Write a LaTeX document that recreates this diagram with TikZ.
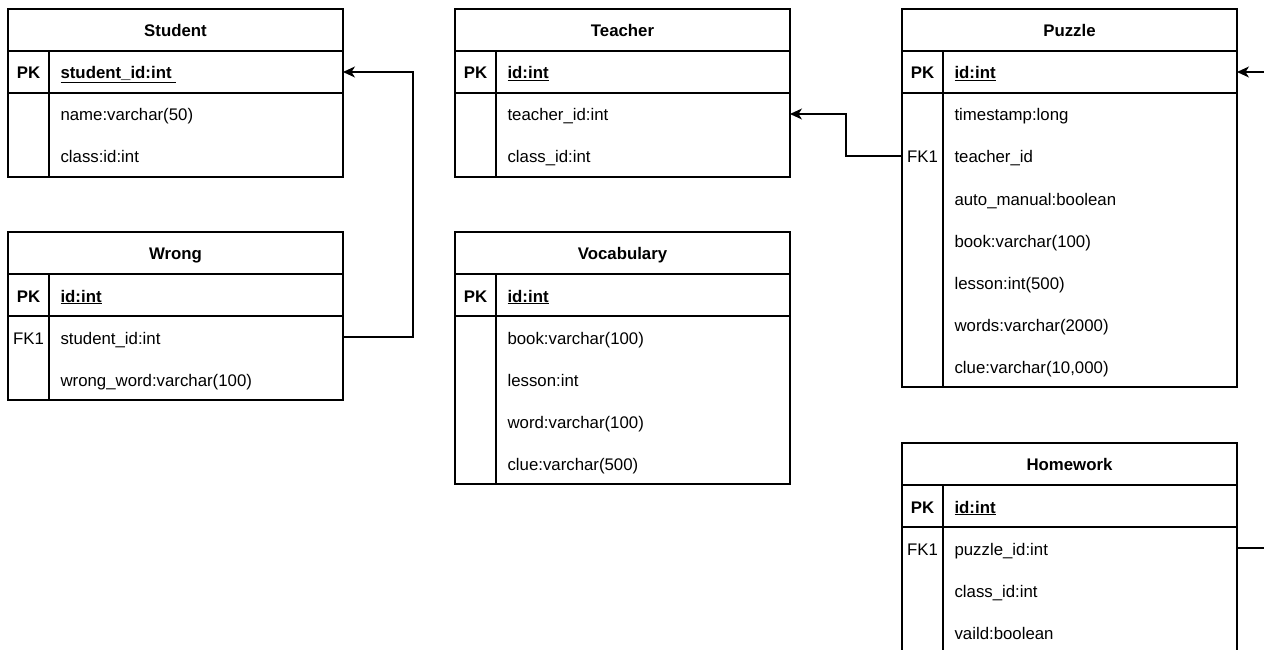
\documentclass[tikz,border=0pt]{standalone}
\usepackage{fontspec}
\setmainfont{Liberation Sans}
\usetikzlibrary{positioning}
\usetikzlibrary{arrows.meta}

\newcommand{\erfont}{\fontsize{16.8}{20}\selectfont}

\tikzset{
  tbltitle/.style={draw, anchor=north west, minimum width=335pt, minimum height=42pt, inner sep=0pt, outer sep=0pt, text height=13pt, text depth=0pt, font=\erfont\bfseries},
  pkrow/.style={draw, minimum width=335pt, minimum height=42pt, inner sep=0pt, outer sep=0pt},
  tblbody/.style={draw, minimum width=335pt, inner sep=0pt, outer sep=0pt},
  keycol/.style={inner sep=0pt, text height=14pt, text depth=0pt},
  field/.style={anchor=west, inner sep=0pt, text height=14pt, text depth=0pt},
  bold/.style={font=\erfont\bfseries},
}

\begin{document}
\begin{tikzpicture}[x=1pt, y=-1pt, line width=1.1pt, font=\erfont,
    >={Stealth[length=12pt, width=11pt, inset=3.5pt]}]
\useasboundingbox (0,0) rectangle (1264,650);
\clip (0,0) rectangle (1264,650);

% Student
\node[tbltitle] (student) at (8,9) {Student};
\node[pkrow, below=0pt of student] (student-pk) {};
\node[tblbody, minimum height=84pt, below=0pt of student-pk] (student-body) {};
\draw ([xshift=41pt]student-pk.north west) -- ([xshift=41pt]student-body.south west);
\node[keycol, bold] (student-k) at ([xshift=20.5pt]student-pk.west) {PK};
\node[field, bold] (student-id) at ([xshift=52pt]student-pk.west) {\underline{student\_id:int\ }};
\foreach \t [count=\i] in {name:varchar(50), class:id:int}
  \node[field] (student-f\i) at ([xshift=52pt, yshift={-(\i-0.5)*42pt}]student-body.north west) {\t};

% Teacher
\node[tbltitle] (teacher) at (455,9) {Teacher};
\node[pkrow, below=0pt of teacher] (teacher-pk) {};
\node[tblbody, minimum height=84pt, below=0pt of teacher-pk] (teacher-body) {};
\draw ([xshift=41pt]teacher-pk.north west) -- ([xshift=41pt]teacher-body.south west);
\node[keycol, bold] (teacher-k) at ([xshift=20.5pt]teacher-pk.west) {PK};
\node[field, bold] (teacher-id) at ([xshift=52pt]teacher-pk.west) {\underline{id:int}};
\foreach \t [count=\i] in {teacher\_id:int, class\_id:int}
  \node[field] (teacher-f\i) at ([xshift=52pt, yshift={-(\i-0.5)*42pt}]teacher-body.north west) {\t};

% Puzzle
\node[tbltitle] (puzzle) at (902,9) {Puzzle};
\node[pkrow, below=0pt of puzzle] (puzzle-pk) {};
\node[tblbody, minimum height=294pt, below=0pt of puzzle-pk] (puzzle-body) {};
\draw ([xshift=41pt]puzzle-pk.north west) -- ([xshift=41pt]puzzle-body.south west);
\node[keycol, bold] (puzzle-k) at ([xshift=20.5pt]puzzle-pk.west) {PK};
\node[field, bold] (puzzle-id) at ([xshift=52pt]puzzle-pk.west) {\underline{id:int}};
\foreach \t [count=\i] in {timestamp:long, teacher\_id, auto\_manual:boolean, book:varchar(100),
    lesson:int(500), words:varchar(2000), {clue:varchar(10,000)}}
  \node[field] (puzzle-f\i) at ([xshift=52pt, yshift={-(\i-0.5)*42pt}]puzzle-body.north west) {\t};
\path (puzzle-f2 -| puzzle-body.west) ++(20.5,0) node[keycol] (puzzle-fk) {FK1};

% Wrong
\node[tbltitle] (wrong) at (8,232) {Wrong};
\node[pkrow, below=0pt of wrong] (wrong-pk) {};
\node[tblbody, minimum height=84pt, below=0pt of wrong-pk] (wrong-body) {};
\draw ([xshift=41pt]wrong-pk.north west) -- ([xshift=41pt]wrong-body.south west);
\node[keycol, bold] (wrong-k) at ([xshift=20.5pt]wrong-pk.west) {PK};
\node[field, bold] (wrong-id) at ([xshift=52pt]wrong-pk.west) {\underline{id:int}};
\foreach \t [count=\i] in {student\_id:int, wrong\_word:varchar(100)}
  \node[field] (wrong-f\i) at ([xshift=52pt, yshift={-(\i-0.5)*42pt}]wrong-body.north west) {\t};
\path (wrong-f1 -| wrong-body.west) ++(20.5,0) node[keycol] (wrong-fk) {FK1};

% Vocabulary
\node[tbltitle] (vocab) at (455,232) {Vocabulary};
\node[pkrow, below=0pt of vocab] (vocab-pk) {};
\node[tblbody, minimum height=168pt, below=0pt of vocab-pk] (vocab-body) {};
\draw ([xshift=41pt]vocab-pk.north west) -- ([xshift=41pt]vocab-body.south west);
\node[keycol, bold] (vocab-k) at ([xshift=20.5pt]vocab-pk.west) {PK};
\node[field, bold] (vocab-id) at ([xshift=52pt]vocab-pk.west) {\underline{id:int}};
\foreach \t [count=\i] in {book:varchar(100), lesson:int, word:varchar(100), clue:varchar(500)}
  \node[field] (vocab-f\i) at ([xshift=52pt, yshift={-(\i-0.5)*42pt}]vocab-body.north west) {\t};

% Homework
\node[tbltitle] (homework) at (902,443) {Homework};
\node[pkrow, below=0pt of homework] (homework-pk) {};
\node[tblbody, minimum height=168pt, below=0pt of homework-pk] (homework-body) {};
\draw ([xshift=41pt]homework-pk.north west) -- ([xshift=41pt]homework-body.south west);
\node[keycol, bold] (homework-k) at ([xshift=20.5pt]homework-pk.west) {PK};
\node[field, bold] (homework-id) at ([xshift=52pt]homework-pk.west) {\underline{id:int}};
\foreach \t [count=\i] in {puzzle\_id:int, class\_id:int, vaild:boolean}
  \node[field] (homework-f\i) at ([xshift=52pt, yshift={-(\i-0.5)*42pt}]homework-body.north west) {\t};
\path (homework-f1 -| homework-body.west) ++(20.5,0) node[keycol] (homework-fk) {FK1};

% relations
\coordinate (teacher-in) at (teacher-f1 -| teacher-body.east);
\draw[->] (wrong-f1 -| wrong-body.east) -| ([xshift=70pt]student-pk.east) -- (student-pk.east);
\draw[->] (puzzle-f2 -| puzzle-body.west) -| ([xshift=56pt]teacher-in) -- (teacher-in);
\draw[->] (homework-f1 -| homework-body.east) -| ([xshift=52pt]puzzle-pk.east) -- (puzzle-pk.east);
\end{tikzpicture}
\end{document}
